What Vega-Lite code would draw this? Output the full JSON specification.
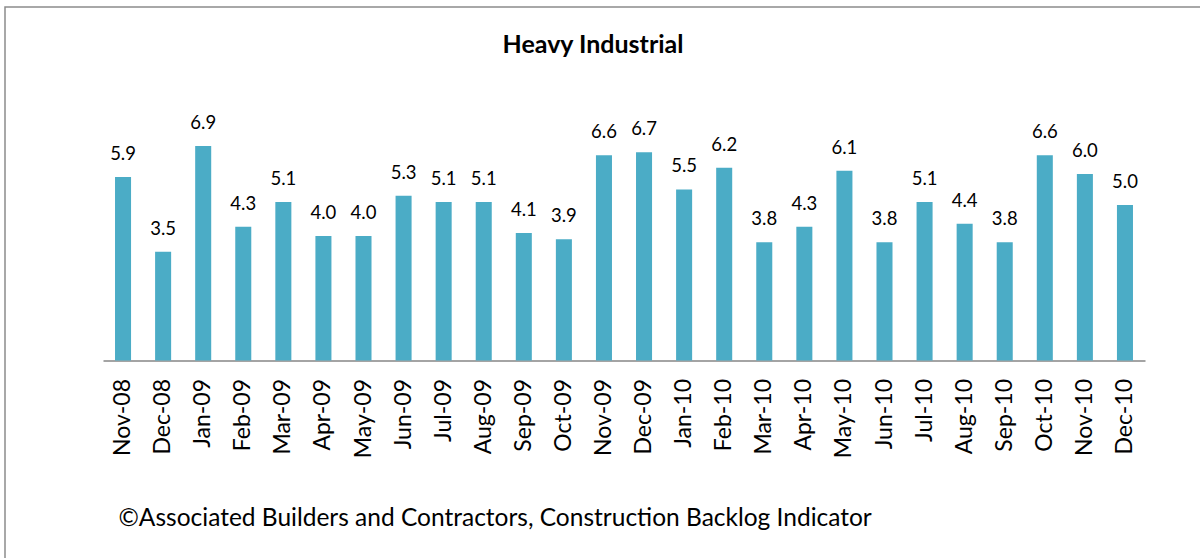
{
  "$schema": "https://vega.github.io/schema/vega-lite/v6.json",
  "autosize": {"type": "none"},
  "padding": {"left": 5, "top": 7, "right": 0, "bottom": 0},
  "width": 1200,
  "height": 560,
  "background": "white",
  "config": {
    "view": {"stroke": "#8c8c8c", "strokeWidth": 1.5},
    "font": "Lato"
  },
  "title": {
    "text": "Heavy Industrial",
    "font": "Lato",
    "fontSize": 25,
    "fontWeight": "bold",
    "color": "#000000",
    "anchor": "middle",
    "frame": "group",
    "dx": -12,
    "dy": 26,
    "baseline": "alphabetic",
    "offset": -45
  },
  "data": {
    "values": [
      {"month": "Nov-08", "value": 5.9},
      {"month": "Dec-08", "value": 3.5},
      {"month": "Jan-09", "value": 6.9},
      {"month": "Feb-09", "value": 4.3},
      {"month": "Mar-09", "value": 5.1},
      {"month": "Apr-09", "value": 4.0},
      {"month": "May-09", "value": 4.0},
      {"month": "Jun-09", "value": 5.3},
      {"month": "Jul-09", "value": 5.1},
      {"month": "Aug-09", "value": 5.1},
      {"month": "Sep-09", "value": 4.1},
      {"month": "Oct-09", "value": 3.9},
      {"month": "Nov-09", "value": 6.6},
      {"month": "Dec-09", "value": 6.7},
      {"month": "Jan-10", "value": 5.5},
      {"month": "Feb-10", "value": 6.2},
      {"month": "Mar-10", "value": 3.8},
      {"month": "Apr-10", "value": 4.3},
      {"month": "May-10", "value": 6.1},
      {"month": "Jun-10", "value": 3.8},
      {"month": "Jul-10", "value": 5.1},
      {"month": "Aug-10", "value": 4.4},
      {"month": "Sep-10", "value": 3.8},
      {"month": "Oct-10", "value": 6.6},
      {"month": "Nov-10", "value": 6.0},
      {"month": "Dec-10", "value": 5.0}
    ]
  },
  "encoding": {
    "x": {
      "field": "month",
      "type": "ordinal",
      "sort": null,
      "scale": {"range": [98, 1140], "paddingInner": 0.6, "paddingOuter": 0.3},
      "axis": {
        "title": "©Associated Builders and Contractors, Construction Backlog Indicator",
        "orient": "bottom",
        "offset": -206.5,
        "labelAngle": 270,
        "labelAlign": "right",
        "labelBaseline": "middle",
        "labelFont": "Lato",
        "labelFontSize": 23,
        "labelColor": "#000000",
        "labelPadding": 18,
        "ticks": false,
        "domainColor": "#868686",
        "domainWidth": 1.5,
        "titleX": 113,
        "titleY": 164.5,
        "titleAlign": "left",
        "titleAnchor": "start",
        "titleBaseline": "alphabetic",
        "titleFont": "Lato",
        "titleFontSize": 24.5,
        "titleFontWeight": "normal",
        "titleColor": "#000000"
      }
    },
    "y": {
      "field": "value",
      "type": "quantitative",
      "scale": {"domain": [0, 8], "range": [353.5, 104.7], "nice": false, "zero": true},
      "axis": null
    }
  },
  "layer": [
    {"mark": {"type": "bar", "color": "#4BACC6"}},
    {
      "mark": {"type": "text", "baseline": "alphabetic", "dy": -17, "font": "Lato", "fontSize": 18.5, "color": "#000000"},
      "encoding": {"text": {"field": "value", "type": "quantitative", "format": ".1f"}}
    }
  ]
}
